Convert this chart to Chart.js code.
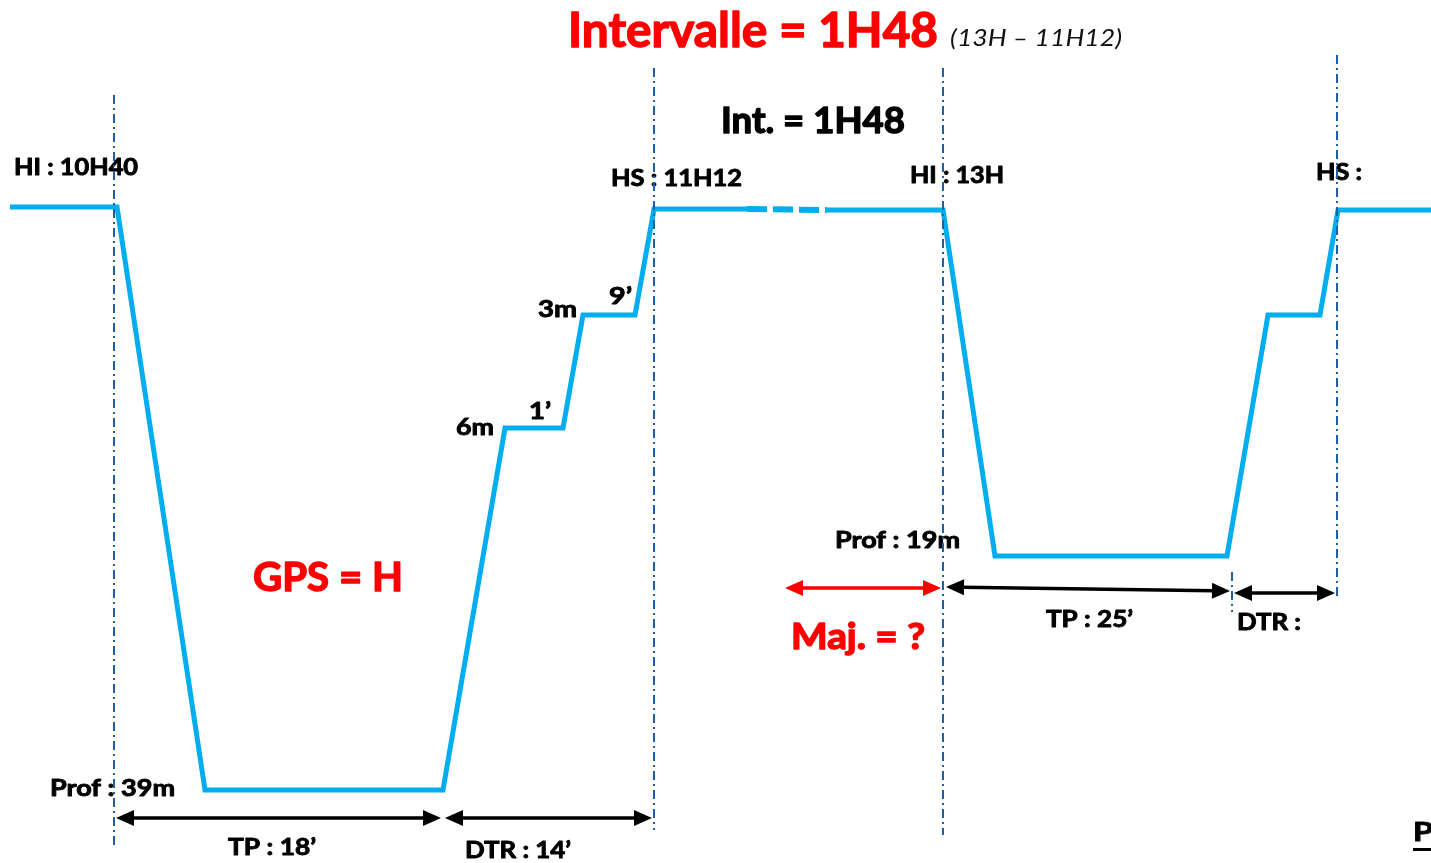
<!DOCTYPE html>
<html>
<head>
<meta charset="utf-8">
<script src="https://cdn.jsdelivr.net/npm/chart.js@4/dist/chart.umd.min.js"></script>
<style>
html,body{margin:0;padding:0;background:#ffffff;overflow:hidden;}
#wrap{width:1431px;height:863px;}
</style>
</head>
<body>
<div id="wrap"><canvas id="c" width="1431" height="863"></canvas></div>
<script>
// Schematic diagram units (x: timeline position, y: schematic depth level)
const dive1X = [10, 117, 205, 443, 505, 563, 583, 635, 654, 747];
const dive1Y = [207, 207, 790, 790, 428, 428, 315, 315, 209, 209];
const surfaceX = [747, 827];
const surfaceY = [209, 210];
const dive2X = [827, 943, 995, 1227, 1268, 1320, 1338, 1431];
const dive2Y = [210, 210, 556, 556, 315, 315, 210, 210];

// vertical reference lines: x, yTop, yBottom
const vLineX = [114, 654, 943, 1337, 1232];
const vLineTop = [95, 68, 68, 55, 572];
const vLineBottom = [846, 830, 835, 596, 612];

// double arrows
const arrowX1 = [116, 445, 785, 946, 1234];
const arrowX2 = [441, 652, 941, 1230, 1335];
const arrowY1 = [818, 818, 588, 587, 593];
const arrowY2 = [818, 818, 588, 591, 593];
const arrowColor = ['#000', '#000', '#FF0000', '#000', '#000'];

// labels
const labelText = ['Intervalle = 1H48', '(13H \u2013 11H12)', 'Int. = 1H48', 'HI : 10H40', 'HS : 11H12', 'HI : 13H', 'HS :',
  '3m', '9\u2019', '6m', '1\u2019', 'GPS = H', 'Prof : 19m', 'Maj. = ?', 'TP : 25\u2019', 'DTR :', 'Prof : 39m', 'TP : 18\u2019', 'DTR : 14\u2019', 'P'];
const labelX = [568, 950, 721, 14, 611, 910, 1316, 538, 609, 456, 529, 253, 835, 791, 1046, 1237, 50, 228, 465, 1413];
const labelY = [32, 38, 121, 168, 179, 176, 173, 310, 297, 428, 412, 578, 541, 637, 620, 623, 789, 848, 851, 833];
const labelW = [370, 172, 184, 124, 131, 94, 46, 39, 23, 38, 22, 150, 125, 134, 87, 64, 125, 88, 106, 20];
const labelSize = [48, 24, 36, 23, 23, 23, 23, 23, 23, 23, 23, 40, 23, 36, 23, 23, 23, 23, 23, 26];
const labelColor = ['#FF0000', '#111', '#000', '#000', '#000', '#000', '#000', '#000', '#000', '#000', '#000', '#FF0000', '#000', '#FF0000', '#000', '#000', '#000', '#000', '#000', '#000'];
const labelItalic = [false, true, false, false, false, false, false, false, false, false, false, false, false, false, false, false, false, false, false, false];

const BLUE = '#00AEEF';
const DASHBLUE = '#1F5FA8';

const toPts = (xs, ys) => xs.map((x, i) => ({x: x, y: ys[i]}));

const datasets = [];
vLineX.forEach((x, i) => {
  datasets.push({data: [{x: x, y: vLineTop[i]}, {x: x, y: vLineBottom[i]}], borderColor: DASHBLUE, borderWidth: 2,
    borderDash: [9, 4, 2, 4], pointRadius: 0, order: 0, fill: false});
});
datasets.push({data: toPts(dive1X, dive1Y), borderColor: BLUE, borderWidth: 5, pointRadius: 0, order: 2, borderJoinStyle: 'miter', fill: false});
datasets.push({data: toPts(surfaceX, surfaceY), borderColor: BLUE, borderWidth: 6, borderDash: [20, 6], pointRadius: 0, order: 2, fill: false});
datasets.push({data: toPts(dive2X, dive2Y), borderColor: BLUE, borderWidth: 5, pointRadius: 0, order: 2, borderJoinStyle: 'miter', fill: false});

const annot = {
  id: 'annot',
  beforeDatasetsDraw(chart) {
    const ctx = chart.ctx, xs = chart.scales.x, ys = chart.scales.y;
    ctx.save();
    labelText.forEach((t, i) => {
      const font = (labelItalic[i] ? 'italic ' : 'bold ') + labelSize[i] + 'px Lato, "DejaVu Sans", sans-serif';
      ctx.font = font;
      const m = ctx.measureText(t).width;
      const px = xs.getPixelForValue(labelX[i]);
      const py = ys.getPixelForValue(labelY[i]);
      const sx = labelW[i] / m;
      ctx.save();
      ctx.translate(px, py);
      ctx.scale(sx, 1);
      ctx.fillStyle = labelColor[i];
      ctx.strokeStyle = labelColor[i];
      ctx.textBaseline = 'middle';
      ctx.textAlign = 'left';
      ctx.fillText(t, 0, 0);
      if (!labelItalic[i]) {
        ctx.lineWidth = labelSize[i] > 30 ? 1.4 : 0.9;
        ctx.lineJoin = 'round';
        ctx.strokeText(t, 0, 0);
      }
      ctx.restore();
      if (t === 'P') {
        ctx.fillStyle = '#000';
        ctx.fillRect(px, py + 15, 30, 3);
      }
    });
    ctx.restore();
  },
  afterDatasetsDraw(chart) {
    const ctx = chart.ctx, xs = chart.scales.x, ys = chart.scales.y;
    ctx.save();
    arrowX1.forEach((x1, i) => {
      const a = {x: xs.getPixelForValue(x1), y: ys.getPixelForValue(arrowY1[i])};
      const b = {x: xs.getPixelForValue(arrowX2[i]), y: ys.getPixelForValue(arrowY2[i])};
      const ang = Math.atan2(b.y - a.y, b.x - a.x);
      const L = 18, H = 8;
      ctx.strokeStyle = arrowColor[i];
      ctx.fillStyle = arrowColor[i];
      ctx.lineWidth = 3.5;
      ctx.beginPath();
      ctx.moveTo(a.x + Math.cos(ang) * (L - 2), a.y + Math.sin(ang) * (L - 2));
      ctx.lineTo(b.x - Math.cos(ang) * (L - 2), b.y - Math.sin(ang) * (L - 2));
      ctx.stroke();
      const head = (p, dir) => {
        const c = Math.cos(dir), s = Math.sin(dir);
        ctx.beginPath();
        ctx.moveTo(p.x, p.y);
        ctx.lineTo(p.x - c * L - s * H, p.y - s * L + c * H);
        ctx.lineTo(p.x - c * L + s * H, p.y - s * L - c * H);
        ctx.closePath();
        ctx.fill();
      };
      head(b, ang);
      head(a, ang + Math.PI);
    });
    ctx.restore();
  }
};

new Chart(document.getElementById('c'), {
  type: 'line',
  data: {datasets: datasets},
  options: {
    responsive: false,
    devicePixelRatio: 1,
    animation: false,
    layout: {padding: 0},
    plugins: {legend: {display: false}, tooltip: {enabled: false}},
    scales: {
      x: {type: 'linear', min: 0, max: 1431, display: false},
      y: {type: 'linear', min: 0, max: 863, reverse: true, display: false}
    }
  },
  plugins: [annot]
});
</script>
</body>
</html>
